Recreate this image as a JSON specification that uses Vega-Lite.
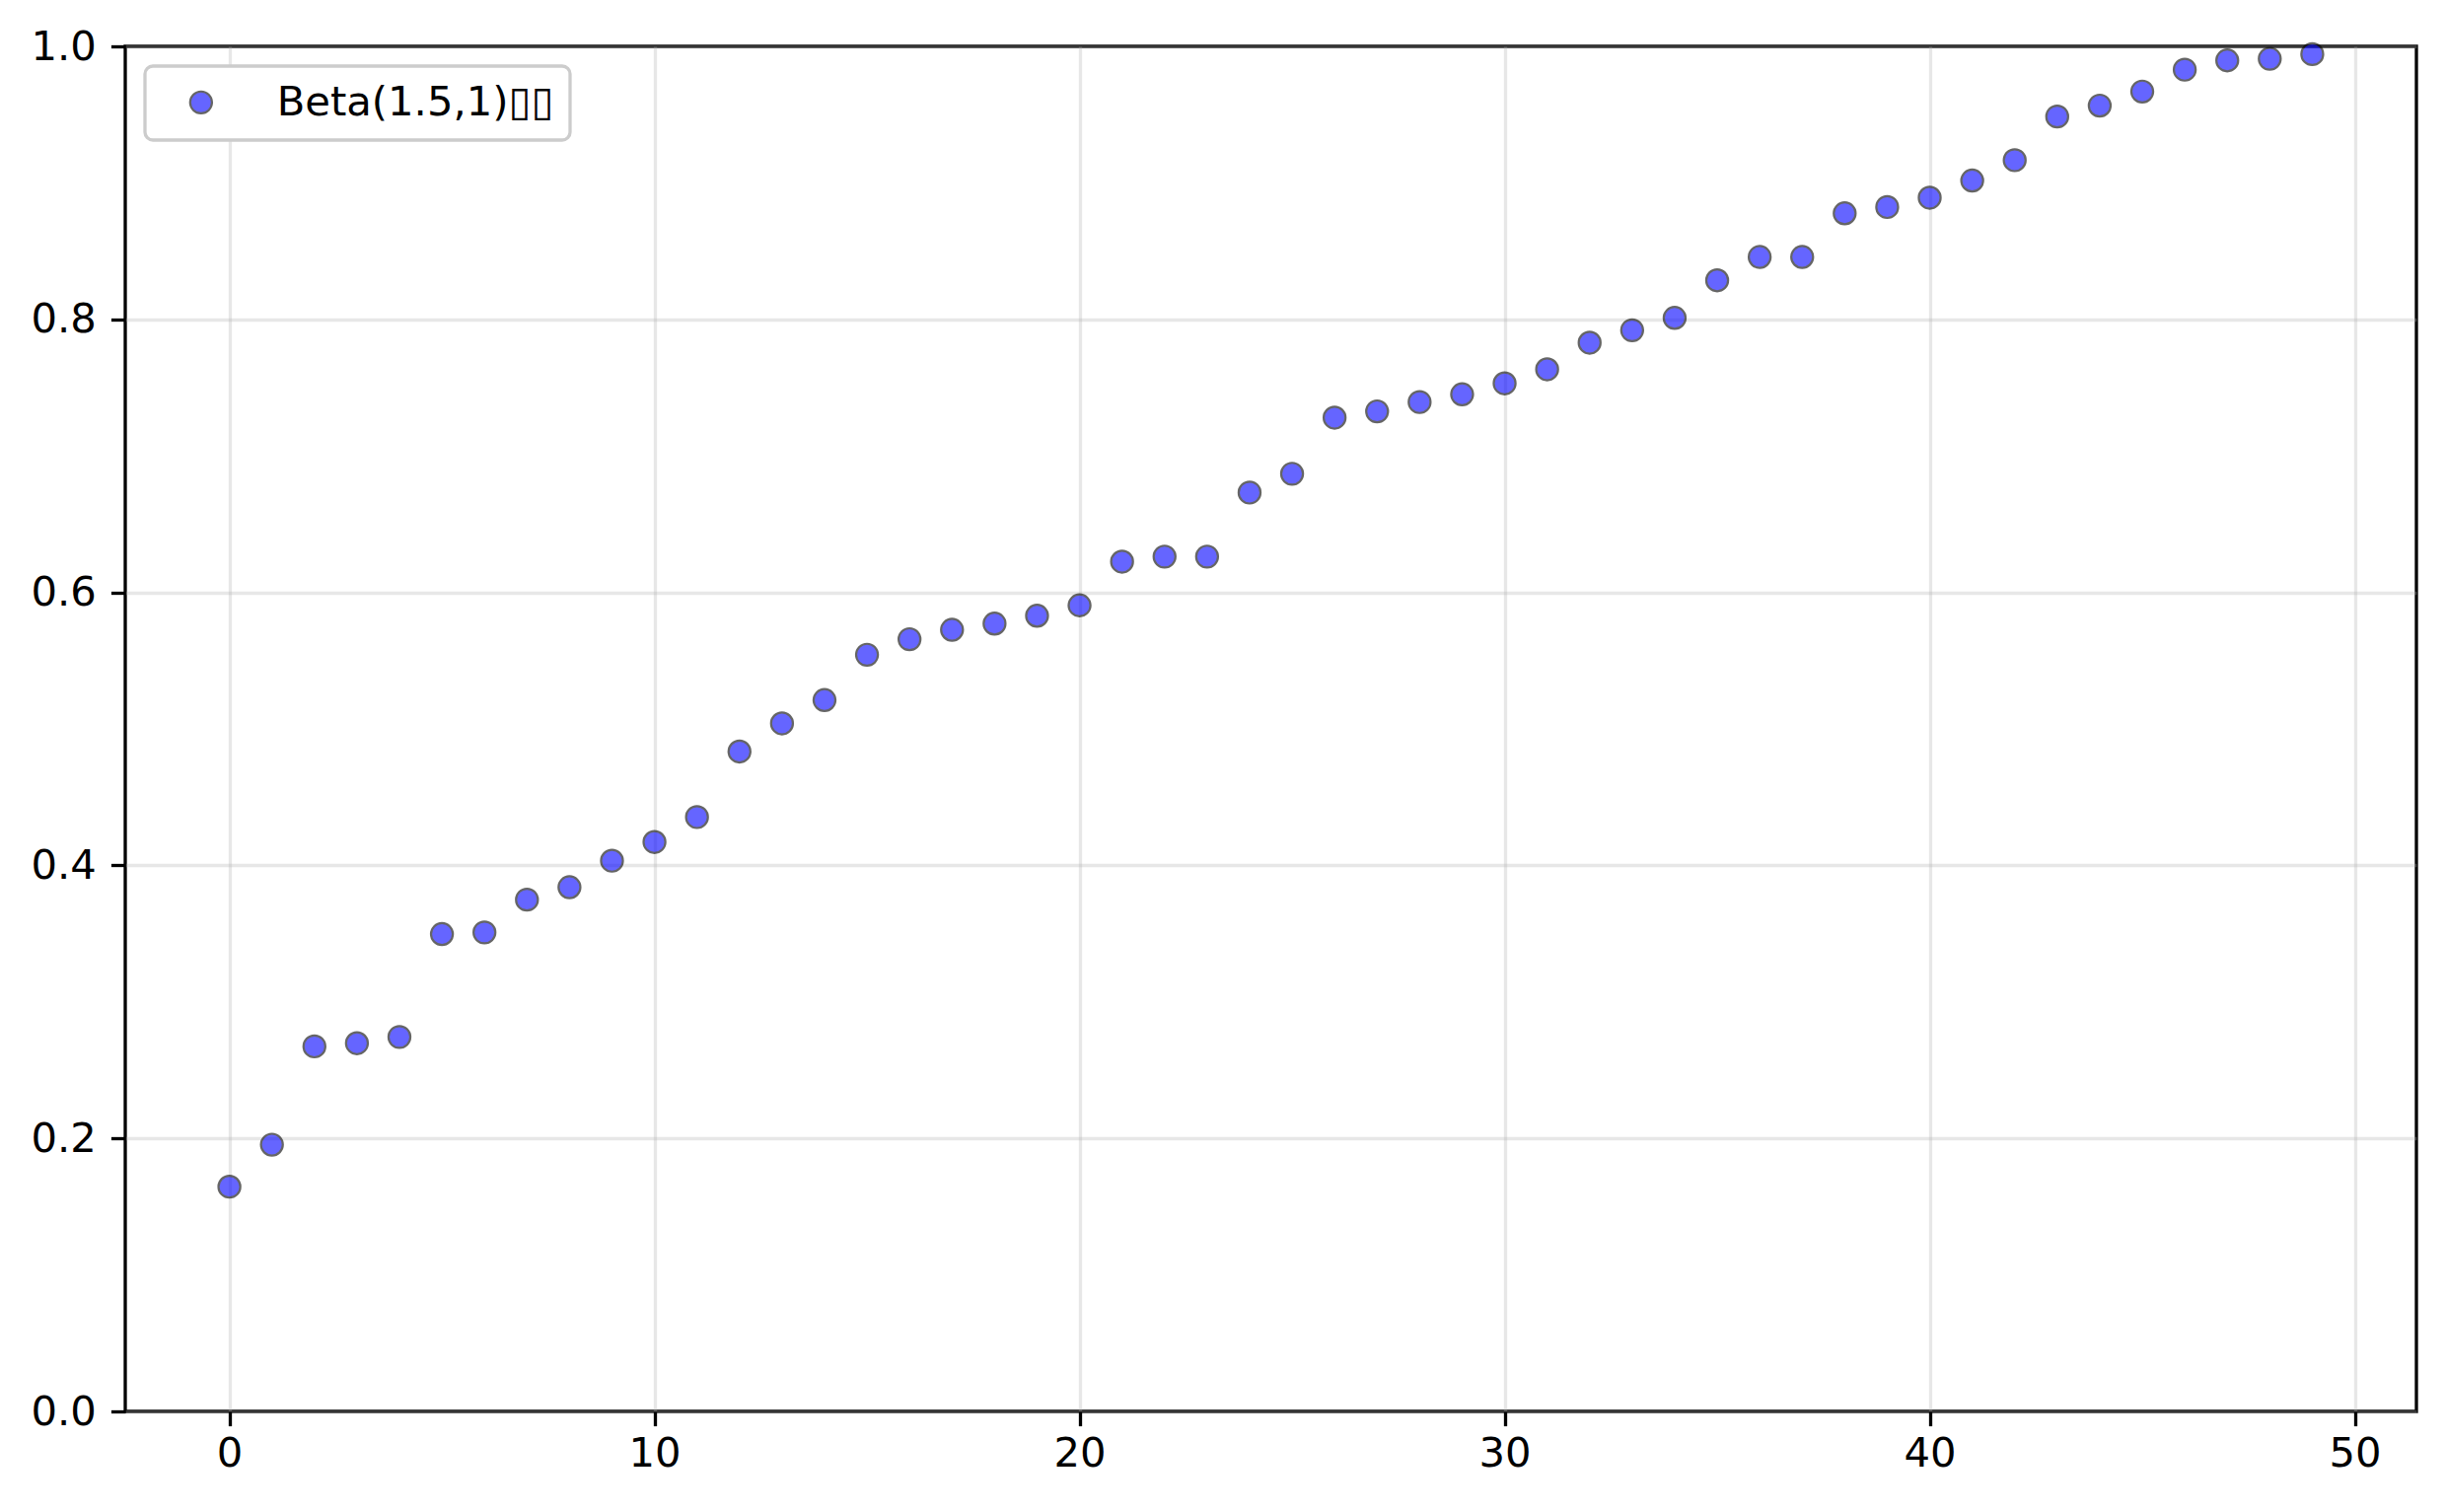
{
  "$schema": "https://vega.github.io/schema/vega-lite/v6.json",
  "autosize": {"type": "none"},
  "padding": {"left": 127, "top": 47, "right": 30, "bottom": 102},
  "width": 2323,
  "height": 1384,
  "background": "white",
  "config": {
    "font": "DejaVu Sans",
    "view": {"stroke": "black", "strokeWidth": 3.3},
    "axis": {
      "domain": false,
      "grid": true,
      "gridColor": "#b0b0b0",
      "gridOpacity": 0.3,
      "gridWidth": 3.3,
      "tickColor": "black",
      "tickWidth": 3.3,
      "tickSize": 14.6,
      "labelFont": "DejaVu Sans",
      "labelFontSize": 41.7,
      "labelColor": "black",
      "title": null
    }
  },
  "data": {
    "values": [
      {"i": 0, "v": 0.1646, "s": "Beta(1.5,1)▯▯"},
      {"i": 1, "v": 0.1954, "s": "Beta(1.5,1)▯▯"},
      {"i": 2, "v": 0.2674, "s": "Beta(1.5,1)▯▯"},
      {"i": 3, "v": 0.2697, "s": "Beta(1.5,1)▯▯"},
      {"i": 4, "v": 0.2743, "s": "Beta(1.5,1)▯▯"},
      {"i": 5, "v": 0.3497, "s": "Beta(1.5,1)▯▯"},
      {"i": 6, "v": 0.3509, "s": "Beta(1.5,1)▯▯"},
      {"i": 7, "v": 0.3749, "s": "Beta(1.5,1)▯▯"},
      {"i": 8, "v": 0.3840, "s": "Beta(1.5,1)▯▯"},
      {"i": 9, "v": 0.4034, "s": "Beta(1.5,1)▯▯"},
      {"i": 10, "v": 0.4171, "s": "Beta(1.5,1)▯▯"},
      {"i": 11, "v": 0.4354, "s": "Beta(1.5,1)▯▯"},
      {"i": 12, "v": 0.4834, "s": "Beta(1.5,1)▯▯"},
      {"i": 13, "v": 0.5040, "s": "Beta(1.5,1)▯▯"},
      {"i": 14, "v": 0.5211, "s": "Beta(1.5,1)▯▯"},
      {"i": 15, "v": 0.5543, "s": "Beta(1.5,1)▯▯"},
      {"i": 16, "v": 0.5657, "s": "Beta(1.5,1)▯▯"},
      {"i": 17, "v": 0.5726, "s": "Beta(1.5,1)▯▯"},
      {"i": 18, "v": 0.5771, "s": "Beta(1.5,1)▯▯"},
      {"i": 19, "v": 0.5829, "s": "Beta(1.5,1)▯▯"},
      {"i": 20, "v": 0.5905, "s": "Beta(1.5,1)▯▯"},
      {"i": 21, "v": 0.6225, "s": "Beta(1.5,1)▯▯"},
      {"i": 22, "v": 0.6262, "s": "Beta(1.5,1)▯▯"},
      {"i": 23, "v": 0.6262, "s": "Beta(1.5,1)▯▯"},
      {"i": 24, "v": 0.6731, "s": "Beta(1.5,1)▯▯"},
      {"i": 25, "v": 0.6869, "s": "Beta(1.5,1)▯▯"},
      {"i": 26, "v": 0.7280, "s": "Beta(1.5,1)▯▯"},
      {"i": 27, "v": 0.7326, "s": "Beta(1.5,1)▯▯"},
      {"i": 28, "v": 0.7394, "s": "Beta(1.5,1)▯▯"},
      {"i": 29, "v": 0.7451, "s": "Beta(1.5,1)▯▯"},
      {"i": 30, "v": 0.7531, "s": "Beta(1.5,1)▯▯"},
      {"i": 31, "v": 0.7634, "s": "Beta(1.5,1)▯▯"},
      {"i": 32, "v": 0.7829, "s": "Beta(1.5,1)▯▯"},
      {"i": 33, "v": 0.7920, "s": "Beta(1.5,1)▯▯"},
      {"i": 34, "v": 0.8011, "s": "Beta(1.5,1)▯▯"},
      {"i": 35, "v": 0.8286, "s": "Beta(1.5,1)▯▯"},
      {"i": 36, "v": 0.8457, "s": "Beta(1.5,1)▯▯"},
      {"i": 37, "v": 0.8457, "s": "Beta(1.5,1)▯▯"},
      {"i": 38, "v": 0.8777, "s": "Beta(1.5,1)▯▯"},
      {"i": 39, "v": 0.8823, "s": "Beta(1.5,1)▯▯"},
      {"i": 40, "v": 0.8891, "s": "Beta(1.5,1)▯▯"},
      {"i": 41, "v": 0.9017, "s": "Beta(1.5,1)▯▯"},
      {"i": 42, "v": 0.9166, "s": "Beta(1.5,1)▯▯"},
      {"i": 43, "v": 0.9486, "s": "Beta(1.5,1)▯▯"},
      {"i": 44, "v": 0.9566, "s": "Beta(1.5,1)▯▯"},
      {"i": 45, "v": 0.9669, "s": "Beta(1.5,1)▯▯"},
      {"i": 46, "v": 0.9829, "s": "Beta(1.5,1)▯▯"},
      {"i": 47, "v": 0.9897, "s": "Beta(1.5,1)▯▯"},
      {"i": 48, "v": 0.9909, "s": "Beta(1.5,1)▯▯"},
      {"i": 49, "v": 0.9943, "s": "Beta(1.5,1)▯▯"}
    ]
  },
  "mark": {"type": "point", "shape": "circle", "filled": true, "size": 491, "opacity": 0.6, "stroke": "black", "strokeWidth": 2.2},
  "encoding": {
    "x": {
      "field": "i", "type": "quantitative",
      "scale": {"domain": [-2.45, 51.45], "nice": false, "zero": false},
      "axis": {"values": [0, 10, 20, 30, 40, 50], "format": "d", "labelPadding": 8}
    },
    "y": {
      "field": "v", "type": "quantitative",
      "scale": {"domain": [0, 1], "nice": false},
      "axis": {"values": [0, 0.2, 0.4, 0.6, 0.8, 1.0], "format": ".1f", "labelPadding": 15}
    },
    "fill": {
      "field": "s", "type": "nominal",
      "scale": {"range": ["blue"]},
      "legend": {
        "title": null,
        "orient": "top-left",
        "offset": 20,
        "padding": 16,
        "fillColor": "white",
        "strokeColor": "#cccccc",
        "cornerRadius": 8,
        "symbolType": "circle",
        "symbolSize": 491,
        "symbolOpacity": 0.6,
        "symbolStrokeColor": "black",
        "symbolStrokeWidth": 2.2,
        "symbolOffset": 20,
        "labelOffset": 56,
        "labelFont": "DejaVu Sans",
        "labelFontSize": 41.7,
        "labelColor": "black",
        "labelLimit": 0,
        "encode": {"legend": {"update": {"strokeWidth": {"value": 3.3}}}}
      }
    }
  }
}
